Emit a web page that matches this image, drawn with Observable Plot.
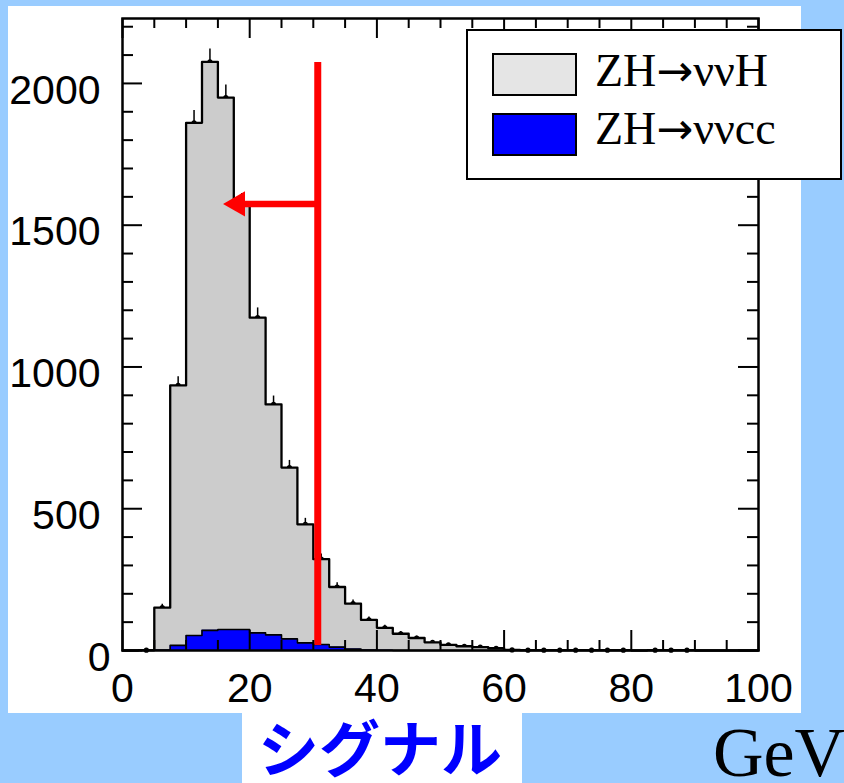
<!DOCTYPE html>
<html>
<head>
<meta charset="utf-8">
<script src="https://cdn.jsdelivr.net/npm/d3@7"></script>
<script src="https://cdn.jsdelivr.net/npm/@observablehq/plot@0.6"></script>
<style>
html, body { margin: 0; padding: 0; }
body { width: 844px; height: 783px; background: #99ccff; position: relative; overflow: hidden; }
#panel { position: absolute; left: 8px; top: 6px; width: 793px; height: 707px; background: #ffffff; }
#sigbox { position: absolute; left: 242px; top: 706px; width: 280px; height: 77px; background: #ffffff; }
#chart { position: absolute; left: 0; top: 0; }
#legend { position: absolute; left: 466px; top: 29px; width: 376px; height: 151px; box-sizing: border-box;
  border: 2px solid #000; background: #fff; }
.sw { position: absolute; left: 24px; width: 85px; height: 43px; box-sizing: border-box; border: 2px solid #000; }
.lt { position: absolute; left: 127px; font-family: "Liberation Serif", "Times New Roman", serif; font-size: 46px;
  line-height: 1; white-space: nowrap; color: #000; }
.lt .ar { font-family: "DejaVu Sans", sans-serif; font-size: 44px; }
#sig { position: absolute; left: 258px; top: 715px; font-family: "Noto Sans CJK JP", sans-serif; font-weight: bold;
  font-size: 61px; line-height: 1; color: #0000ff; white-space: nowrap; }
#gev { position: absolute; left: 713px; top: 718px; font-family: "Liberation Serif", "Times New Roman", serif;
  font-size: 70px; line-height: 1; color: #000; white-space: nowrap; }
</style>
</head>
<body>
<div id="panel"></div>
<div id="sigbox"></div>
<div id="chart"></div>
<div id="legend"></div>
<div id="sig"></div>
<div id="gev"></div>
<script>
// ---- data ----
const binLow = [0, 2.5, 5, 7.5, 10, 12.5, 15, 17.5, 20, 22.5,
                25, 27.5, 30, 32.5, 35, 37.5, 40, 42.5, 45, 47.5,
                50, 52.5, 55, 57.5, 60, 62.5, 65, 67.5, 70, 72.5,
                75, 77.5, 80, 82.5, 85, 87.5, 90, 92.5, 95, 97.5];
const binWidth = 2.5;
const zhToNuNuH = [0, 1, 151, 935, 1861, 2076, 1950, 1572, 1174, 868,
                   645, 445, 322, 224, 165, 108, 80, 59, 44, 29,
                   20, 15, 12, 8, 2, 1, 1, 1, 1, 1,
                   1, 1, 0, 1, 1, 1, 0, 0, 0, 0];
const zhToNuNuCC = [0, 0, 2, 18, 53, 71, 74, 74, 62, 55,
                    41, 27, 21, 12, 5, 2, 1, 0, 0, 0,
                    0, 0, 0, 0, 0, 0, 0, 0, 0, 0,
                    0, 0, 0, 0, 0, 0, 0, 0, 0, 0];
const seriesPrefix = "ZH";
const seriesArrow = "\u2192";
const seriesSuffix = ["\u03bd\u03bdH", "\u03bd\u03bdcc"];
const seriesColors = ["#cccccc", "#0000ff"];
const legendColors = ["#e5e5e5", "#0000ff"];
const xMajorTicks = [0, 20, 40, 60, 80, 100];
const xMinorTicks = [5, 10, 15, 25, 30, 35, 45, 50, 55, 65, 70, 75, 85, 90, 95];
const yMajorTicks = [500, 1000, 1500, 2000];
const yZeroTick = [0];
const yMinorTicks = [100, 200, 300, 400, 600, 700, 800, 900, 1100, 1200, 1300, 1400,
                     1600, 1700, 1800, 1900, 2100, 2200];
const xDomain = [0, 100];
const yDomain = [0, 2229];
const cutValue = 30.7;        // red cut line (GeV)
const cutLineRange = [18, 2074];
const arrowLevel = 1575;
const arrowTip = 15.8;
const arrowShaftStart = 17.6;
const xLabelText = "\u30b7\u30b0\u30ca\u30eb";
const unitText = "GeV";

// ---- derived tables ----
const hist = binLow.map((x, i) => ({x1: x, x2: x + binWidth, xc: x + binWidth / 2, h: zhToNuNuH[i], c: zhToNuNuCC[i]}));
const outlineH = hist.flatMap(d => [{x: d.x1, y: d.h}, {x: d.x2, y: d.h}]);
const outlineC = hist.flatMap(d => [{x: d.x1, y: d.c}, {x: d.x2, y: d.c}]);
const points = hist.filter(d => d.h > 0);

const W = 844, H = 713, mL = 122, mR = 86, mT = 18, mB = 63;
const fw = W - mL - mR, fh = H - mT - mB;

const chart = Plot.plot({
  width: W, height: H,
  marginLeft: mL, marginRight: mR, marginTop: mT, marginBottom: mB,
  x: {domain: xDomain},
  y: {domain: yDomain},
  style: {background: "transparent", fontFamily: "'Liberation Sans', Arial, sans-serif", fontSize: "41px", color: "#000"},
  marks: [
    Plot.ruleX(points, {x: "xc", y1: d => d.h - Math.sqrt(d.h), y2: d => d.h + Math.sqrt(d.h), stroke: "#000", strokeWidth: 1.5}),
    Plot.dot(points, {x: "xc", y: "h", r: 2.6, fill: "#000"}),
    Plot.area(outlineH, {x1: "x", y1: 0, y2: "y", fill: seriesColors[0]}),
    Plot.line(outlineH, {x: "x", y: "y", stroke: "#000", strokeWidth: 2.3}),
    Plot.area(outlineC, {x1: "x", y1: 0, y2: "y", fill: seriesColors[1]}),
    Plot.line(outlineC, {x: "x", y: "y", stroke: "#000", strokeWidth: 1.6}),
    Plot.ruleX([cutValue], {x: d => d, y1: () => cutLineRange[0], y2: () => cutLineRange[1], stroke: "#ff0000", strokeWidth: 7}),
    Plot.ruleY([arrowLevel], {y: d => d, x1: () => arrowShaftStart, x2: () => cutValue, stroke: "#ff0000", strokeWidth: 6.5}),
    Plot.dot([arrowTip], {x: d => d, y: () => arrowLevel, symbol: "triangle", r: 9.4, rotate: -90, dx: 14.7, fill: "#ff0000", stroke: "none"}),
    // inward ticks on all four sides
    Plot.tickX(xMajorTicks, {x: d => d, insetTop: fh - 20, stroke: "#000", strokeWidth: 2}),
    Plot.tickX(xMajorTicks, {x: d => d, insetBottom: fh - 20, stroke: "#000", strokeWidth: 2}),
    Plot.tickX(xMinorTicks, {x: d => d, insetTop: fh - 10, stroke: "#000", strokeWidth: 2}),
    Plot.tickX(xMinorTicks, {x: d => d, insetBottom: fh - 10, stroke: "#000", strokeWidth: 2}),
    Plot.tickY(yZeroTick.concat(yMajorTicks), {y: d => d, insetRight: fw - 20, stroke: "#000", strokeWidth: 2}),
    Plot.tickY(yZeroTick.concat(yMajorTicks), {y: d => d, insetLeft: fw - 20, stroke: "#000", strokeWidth: 2}),
    Plot.tickY(yMinorTicks, {y: d => d, insetRight: fw - 11, stroke: "#000", strokeWidth: 2}),
    Plot.tickY(yMinorTicks, {y: d => d, insetLeft: fw - 11, stroke: "#000", strokeWidth: 2}),
    Plot.axisX({ticks: xMajorTicks, tickSize: 0, tickPadding: 22, tickFormat: d => String(d), label: null}),
    Plot.axisY({ticks: yMajorTicks, tickSize: 0, tickPadding: 22, tickFormat: d => String(d), label: null, dy: 7}),
    Plot.axisY({ticks: yZeroTick, tickSize: 0, tickPadding: 12, tickFormat: d => String(d), label: null, dy: 7}),
    Plot.frame({stroke: "#000", strokeWidth: 2.5})
  ]
});
document.getElementById("chart").appendChild(chart);

// legend
const legend = document.getElementById("legend");
const swTops = [22, 82], txtTops = [17, 75];
seriesSuffix.forEach((suffix, i) => {
  const sw = document.createElement("div");
  sw.className = "sw"; sw.style.top = swTops[i] + "px"; sw.style.background = legendColors[i];
  legend.appendChild(sw);
  const t = document.createElement("div");
  t.className = "lt"; t.style.top = txtTops[i] + "px";
  t.appendChild(document.createTextNode(seriesPrefix));
  const a = document.createElement("span"); a.className = "ar"; a.textContent = seriesArrow;
  t.appendChild(a);
  t.appendChild(document.createTextNode(suffix));
  legend.appendChild(t);
});
document.getElementById("sig").textContent = xLabelText;
document.getElementById("gev").textContent = unitText;
</script>
</body>
</html>
